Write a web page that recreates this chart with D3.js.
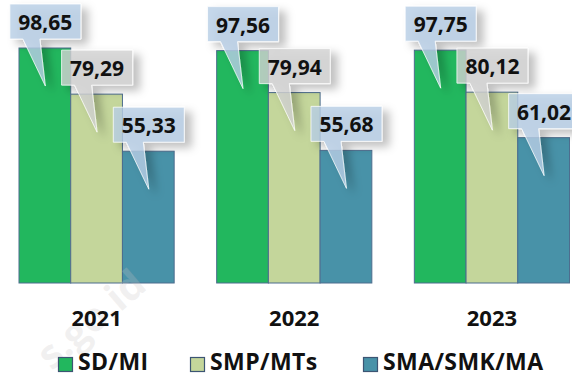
<!DOCTYPE html>
<html><head><meta charset="utf-8">
<script src="https://cdn.jsdelivr.net/npm/d3@7"></script>
<style>
html,body{margin:0;padding:0;background:#fff;}
svg{display:block;font-family:"Open Sans",Lato,sans-serif;font-weight:bold;}
</style></head>
<body>
<svg id="chart" width="572" height="376"></svg>
<script>
const years = ["2021", "2022", "2023"];
const seriesNames = ["SD/MI", "SMP/MTs", "SMA/SMK/MA"];
const sdmi = [98.65, 97.56, 97.75];
const smp = [79.29, 79.94, 80.12];
const sma = [55.33, 55.68, 61.02];
const seriesValues = [sdmi, smp, sma];
const barColors = ["#22B75E", "#C4D69B", "#4892A8"];
const calloutColors = ["#B8CEE6", "#D2D2D2", "#B8CEE6"];

const svg = d3.select("#chart");
const defs = svg.append("defs");
const f = defs.append("filter").attr("id", "sh").attr("x", "-40%").attr("y", "-40%").attr("width", "200%").attr("height", "200%");
f.append("feDropShadow").attr("dx", 7).attr("dy", 5).attr("stdDeviation", 4.5)
  .attr("flood-color", "#000").attr("flood-opacity", 0.3);

const x0 = d3.scaleBand().domain(years).range([19, 569.5]).paddingInner(0.215).paddingOuter(0);
const x1 = d3.scaleBand().domain(seriesNames).range([0, x0.bandwidth()]).padding(0);
const y = d3.scaleLinear().domain([0, 100]).range([283, 44.8]);

const data = [];
years.forEach((yr, i) => seriesNames.forEach((s, j) => data.push({yr, s, j, v: seriesValues[j][i]})));

svg.append("g").selectAll("rect").data(data).join("rect")
  .attr("x", d => x0(d.yr) + x1(d.s))
  .attr("y", d => y(d.v))
  .attr("width", x1.bandwidth())
  .attr("height", d => y(0) - y(d.v))
  .attr("fill", d => barColors[d.j])
  .attr("stroke", "#4d6d8e").attr("stroke-width", 1);

// watermark (faint, visible part)
svg.append("text").attr("transform", "translate(90,318) rotate(-40.6)")
  .attr("font-size", 40).attr("fill", "#c8c4c4").attr("fill-opacity", 0.25)
  .attr("text-anchor", "middle").attr("dominant-baseline", "central")
  .text("s.go.id");

// year labels
svg.append("g").selectAll("text").data(years).join("text")
  .attr("x", d => x0(d) + x0.bandwidth() / 2)
  .attr("y", 326).attr("text-anchor", "middle")
  .attr("font-size", 22).attr("fill", "#111").text(d => d);

// callouts, drawn in series order
const fmt = v => d3.format(".2f")(v).replace(".", ",");
const order = data.slice().sort((a, b) => a.j - b.j || years.indexOf(a.yr) - years.indexOf(b.yr));
const cg = svg.append("g");
order.forEach(d => {
  const cx = x0(d.yr) + x1(d.s) + x1.bandwidth() / 2;
  const top = y(d.v);
  const bx0 = cx - 35, bx1 = cx + 36, by0 = top - 44, by1 = top - 9;
  const tipY = top + 38;
  const p = d3.path();
  p.moveTo(bx0, by0); p.lineTo(bx1, by0); p.lineTo(bx1, by1);
  p.lineTo(cx - 5, by1); p.lineTo(cx + 0.5, tipY); p.lineTo(cx - 22, by1);
  p.lineTo(bx0, by1); p.closePath();
  const g = cg.append("g");
  g.append("path").attr("d", p.toString())
    .attr("fill", calloutColors[d.j]).attr("fill-opacity", 0.8)
    .attr("stroke", "#ffffff").attr("stroke-opacity", 0.75).attr("stroke-width", 1)
    .attr("filter", "url(#sh)");
  g.append("text").attr("x", cx + 0.5).attr("y", by0 + 26)
    .attr("text-anchor", "middle").attr("font-size", 21).attr("fill", "#111")
    .text(fmt(d.v));
});

// legend
const legX = [58, 190, 363];
const lg = svg.append("g").selectAll("g").data(seriesNames).join("g")
  .attr("transform", (d, i) => `translate(${legX[i]},0)`);
lg.append("rect").attr("x", 0.5).attr("y", 357.5).attr("width", 14).attr("height", 14)
  .attr("fill", (d, i) => barColors[i]).attr("stroke", "#3c5573").attr("stroke-width", 1.2);
lg.append("text").attr("x", 20).attr("y", 370).attr("font-size", 23).attr("letter-spacing", 0.4)
  .attr("fill", "#111").text(d => d);
</script>
</body></html>
